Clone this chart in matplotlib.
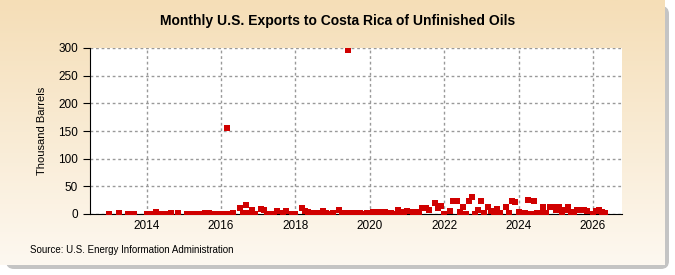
import numpy as np
import matplotlib
matplotlib.use('Agg')
import matplotlib.pyplot as plt
from matplotlib.patches import FancyBboxPatch, Rectangle

# monthly values, thousand barrels
months = ['2013-01', '2013-04', '2013-07', '2013-09',
          '2014-01', '2014-02', '2014-04', '2014-06', '2014-07', '2014-09', '2014-11',
          '2015-02', '2015-03', '2015-05', '2015-06', '2015-07', '2015-08', '2015-09', '2015-11',
          '2016-01', '2016-02', '2016-03', '2016-04', '2016-05', '2016-07', '2016-08', '2016-09',
          '2016-10', '2016-11', '2016-12',
          '2017-02', '2017-03', '2017-04', '2017-05', '2017-06', '2017-07', '2017-09', '2017-10',
          '2017-12',
          '2018-01', '2018-03', '2018-04', '2018-05', '2018-06', '2018-07', '2018-08', '2018-09',
          '2018-10', '2018-11', '2018-12',
          '2019-01', '2019-03', '2019-04', '2019-05', '2019-06', '2019-07', '2019-08', '2019-09',
          '2019-10', '2019-11', '2019-12',
          '2020-01', '2020-02', '2020-03', '2020-04', '2020-06', '2020-08', '2020-09', '2020-10',
          '2020-11', '2020-12',
          '2021-01', '2021-03', '2021-04', '2021-05', '2021-06', '2021-07', '2021-08', '2021-10',
          '2021-11', '2021-12',
          '2022-01', '2022-03', '2022-04', '2022-05', '2022-06', '2022-07', '2022-08', '2022-09',
          '2022-10', '2022-11', '2022-12',
          '2023-01', '2023-02', '2023-03', '2023-04', '2023-05', '2023-06', '2023-07', '2023-09',
          '2023-10', '2023-11', '2023-12',
          '2024-01', '2024-02', '2024-03', '2024-04', '2024-05', '2024-06', '2024-07', '2024-08',
          '2024-09', '2024-10', '2024-11', '2024-12',
          '2025-01', '2025-02', '2025-03', '2025-04', '2025-05', '2025-06', '2025-07', '2025-08',
          '2025-09', '2025-10', '2025-11',
          '2026-01', '2026-02', '2026-03', '2026-04', '2026-05']
values = [0, 1, 0, 0,
          0, 0, 3, 0, 0, 2, 1,
          0, 0, 0, 0, 0, 1, 1, 0,
          0, 0, 155, 0, 2, 10, 1, 17,
          1, 8, 0,
          9, 8, 0, 0, 0, 5, 1, 6,
          0,
          0, 10, 5, 3, 1, 0, 1, 1,
          6, 1, 0,
          1, 8, 0, 1, 297, 1, 0, 1,
          2, 0, 1,
          0, 3, 2, 3, 3, 1, 0, 8,
          3, 3,
          5, 3, 0, 4, 11, 11, 8, 20,
          10, 14,
          0, 6, 24, 24, 4, 12, 0, 24,
          30, 0, 7,
          24, 1, 12, 6, 1, 9, 1, 12,
          1, 24, 22,
          4, 0, 1, 26, 0, 24, 1, 1,
          13, 1, 12, 12,
          7, 12, 1, 7, 12, 4, 2, 7,
          7, 7, 6,
          0, 5, 7, 4, 2]

years = [2014, 2016, 2018, 2020, 2022, 2024, 2026]
yticks = [0, 50, 100, 150, 200, 250, 300]

x = np.array([int(m[:4]) + (int(m[5:]) - 1) / 12 for m in months])
y = np.array(values)

fig = plt.figure(figsize=(6.75, 2.75), dpi=100)

# card background: shadow, gradient, white plot area (all in a pixel-space axes)
bg = fig.add_axes([0, 0, 1, 1], zorder=0)
shadow = FancyBboxPatch((6, 6), 663, 263, boxstyle='round,pad=0,rounding_size=8',
                        fc='#c4c4c4', ec='none', zorder=0)
bg.add_patch(shadow)
grad = np.linspace(0, 1, 256).reshape(-1, 1)
c_top = np.array([245, 222, 183]) / 255
c_bot = np.array([253, 248, 240]) / 255
img = c_top + (c_bot - c_top) * grad[:, :, None]
bg.imshow(img, extent=[0, 665, 265, 0], aspect='auto', zorder=1)
bg.add_patch(Rectangle((90, 48), 532, 166, fc='white', ec='none', zorder=2))
bg.set_xlim(0, 675)
bg.set_ylim(275, 0)
bg.axis('off')

fig.text(0.5, 0.925, 'Monthly U.S. Exports to Costa Rica of Unfinished Oils',
         ha='center', va='center', fontsize=10, fontweight='bold', family='Liberation Sans')
fig.text(30 / 675, 1 - 250 / 275, 'Source: U.S. Energy Information Administration',
         ha='left', va='center', fontsize=7, family='Liberation Sans')

ax = fig.add_axes([90 / 675, 61 / 275, 532 / 675, 166 / 275], zorder=2)
ax.patch.set_visible(False)
ax.scatter(x, y, marker='s', s=13, color='#d00000', zorder=3, linewidths=0)
ax.set_xlim(2012.48, 2026.78)
ax.set_ylim(0, 300)
ax.set_xticks(years)
ax.set_xticklabels([str(v) for v in years])
ax.set_yticks(yticks)
ax.grid(True, color='#999999', linestyle=(0, (2, 2)), linewidth=1.0, zorder=2)
for s in ['top', 'right']:
    ax.spines[s].set_visible(False)
ax.tick_params(axis='y', length=5, labelsize=8.5, direction='out')
ax.tick_params(axis='x', length=0, labelsize=8.5, pad=4)
for lab in ax.get_xticklabels() + ax.get_yticklabels():
    lab.set_family('Liberation Sans')
ax.set_ylabel('Thousand Barrels', fontsize=8, family='Liberation Sans', labelpad=8)

fig.savefig('out.png', dpi=100)
